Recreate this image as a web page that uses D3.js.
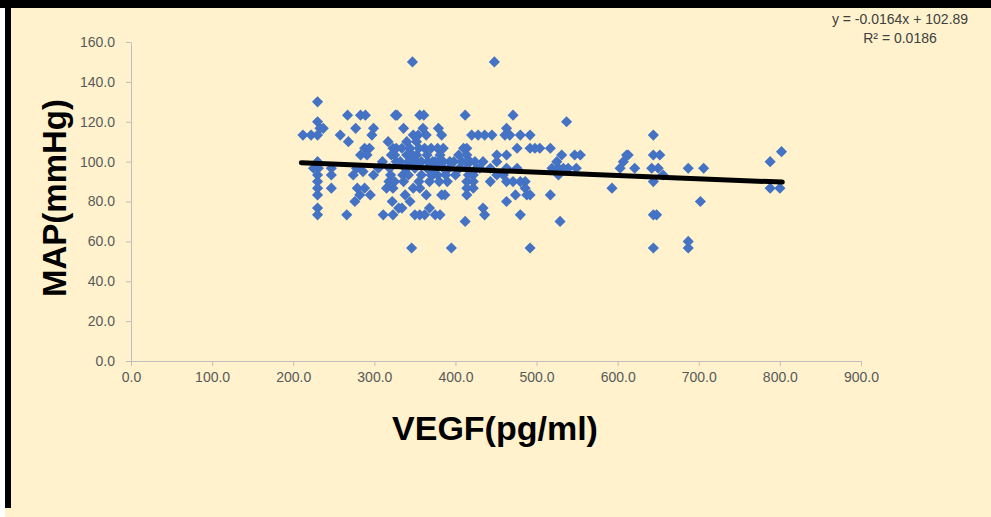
<!DOCTYPE html>
<html>
<head>
<meta charset="utf-8">
<script src="https://cdn.jsdelivr.net/npm/d3@7"></script>
<style>
  html, body { margin: 0; padding: 0; background: #ffffff; }
  svg { display: block; }
</style>
</head>
<body>
<div id="chart"></div>
<script>
// VEGF (pg/ml) readings, x values
const vegf = [
  212, 222, 230, 230, 233, 237, 230, 230, 225, 231, 230, 230, 230, 230, 230, 230,
  247, 247, 247, 258, 267, 283, 289, 277, 268, 288, 283, 278, 286, 274, 282, 276, 279, 288, 295, 266,
  299, 297, 299, 305, 310, 317, 323, 294, 291, 315, 323, 311, 323, 326, 319, 320, 325, 327, 325, 321, 327, 322, 330, 318,
  328, 336, 340, 334, 340, 344, 352, 352, 348, 354, 347, 356, 361, 335, 336, 340, 345, 350, 338, 344, 334, 348, 356, 350, 356, 346, 342, 355, 358, 352,
  360, 364, 362, 370, 378, 381, 365, 372, 385, 393, 379, 383, 364, 368, 375, 381, 383, 387, 365, 372, 368, 378, 385, 390, 395, 385, 362, 375, 368, 380,
  412, 410, 414, 414, 414, 414, 414, 414, 414, 422, 422, 422, 412, 420, 428, 436, 445, 434, 451, 443, 451, 443, 459, 463, 451, 463, 434, 436, 463, 448, 471, 463, 461, 467, 405, 400, 418, 426,
  480, 492, 492, 498, 504, 476, 517, 531, 547, 525, 527, 539, 549, 463, 476, 519, 527, 471, 480, 486, 486, 488, 492, 474, 517, 480, 529, 492, 537, 554, 533,
  593, 603, 607, 611, 613, 621, 644, 644, 652, 642, 650, 656, 644, 644, 648, 644, 687, 706, 702, 687, 687, 788, 802, 788, 800,
  332, 338, 342, 347, 355, 358, 366, 370, 376, 380, 388, 392, 398, 404, 408, 416, 424, 430
];

// MAP (mmHg) readings, y values
const map = [
  113.3, 113.3, 130, 120, 116.7, 116.7, 113.3, 100, 96.7, 96.7, 93.3, 90, 86.7, 83.3, 76.7, 73.3,
  96.7, 93.3, 86.7, 113.3, 123.3, 123.3, 123.3, 116.7, 110, 106.7, 103.3, 96.7, 95, 93.3, 83.3, 80, 86.7, 86.7, 83.3, 73.3,
  116.7, 113.3, 93.3, 96.7, 100, 110, 106.7, 106.7, 103.3, 86.7, 86.7, 73.3, 73.3, 123.3, 96.7, 93.3, 90, 100, 103.3, 103.3, 106.7, 80, 76.7, 90,
  123.3, 116.7, 110, 106.7, 103.3, 106.7, 110, 103.3, 113.3, 113.3, 150, 123.3, 123.3, 93.3, 90, 96.7, 100, 96.7, 83.3, 80, 76.7, 86.7, 86.7, 73.3, 73.3, 56.7, 93.3, 90, 93.3, 100,
  116.7, 113.3, 106.7, 106.7, 106.7, 103.3, 103.3, 100, 100, 100, 116.7, 113.3, 83.3, 76.7, 73.3, 73.3, 83.3, 83.3, 96.7, 93.3, 90, 93.3, 96.7, 90, 56.7, 106.7, 73.3, 100, 96.7, 90,
  123.3, 106.7, 106.7, 103.3, 100, 96.7, 90, 86.7, 83.3, 93.3, 90, 86.7, 70, 113.3, 113.3, 113.3, 113.3, 100, 100, 96.7, 93.3, 90, 93.3, 90, 103.3, 103.3, 76.7, 73.3, 80, 150, 123.3, 116.7, 113.3, 113.3, 96.7, 93.3, 100, 96.7,
  113.3, 113.3, 106.7, 106.7, 106.7, 106.7, 106.7, 103.3, 103.3, 100, 96.7, 96.7, 96.7, 96.7, 96.7, 96.7, 93.3, 90, 90, 90, 86.7, 83.3, 83.3, 83.3, 83.3, 73.3, 70, 56.7, 120, 103.3, 96.7,
  86.7, 96.7, 100, 103.3, 103.3, 96.7, 113.3, 103.3, 103.3, 96.7, 96.7, 93.3, 90, 73.3, 73.3, 56.7, 96.7, 96.7, 80, 60, 56.7, 100, 105, 86.7, 86.7,
  100, 96.7, 100, 103.3, 106.7, 100, 100, 93.3, 96.7, 100, 93.3, 96.7, 100, 103.3, 100, 93.3, 100, 96.7
];

// linear trendline shown on the chart
const trendSlope = -0.0164;
const trendIntercept = 102.89;
const trendLabel = ['y = -0.0164x + 102.89', 'R\u00b2 = 0.0186'];

const xTicks = [0, 100, 200, 300, 400, 500, 600, 700, 800, 900];
const yTicks = [0, 20, 40, 60, 80, 100, 120, 140, 160];

const width = 991;
const height = 517;

const svg = d3.select('#chart')
  .append('svg')
  .attr('width', width)
  .attr('height', height);

// frame: cream panel with a dark edge top and left
svg.append('rect').attr('x', 0).attr('y', 0).attr('width', width).attr('height', height).attr('fill', '#ffffff');
svg.append('rect').attr('x', 5).attr('y', 0).attr('width', width - 5).attr('height', height).attr('fill', '#fff2cc');
svg.append('rect').attr('x', 0).attr('y', 0).attr('width', width).attr('height', 8).attr('fill', '#000000');
svg.append('rect').attr('x', 5).attr('y', 0).attr('width', 6).attr('height', 508).attr('fill', '#000000');

const x = d3.scaleLinear().domain([0, 900]).range([131, 861]);
const y = d3.scaleLinear().domain([0, 160]).range([361, 42]);

const fmt = d3.format('.1f');

// x axis
const xAxis = svg.append('g')
  .attr('transform', `translate(0, ${y(0)})`)
  .call(d3.axisBottom(x).tickValues(xTicks).tickFormat(fmt).tickSize(5).tickSizeOuter(0).tickPadding(6));

// y axis
const yAxis = svg.append('g')
  .attr('transform', `translate(${x(0)}, 0)`)
  .call(d3.axisLeft(y).tickValues(yTicks).tickFormat(fmt).tickSize(5).tickSizeOuter(0).tickPadding(11));

[xAxis, yAxis].forEach(g => {
  g.select('.domain').attr('stroke', '#bfbfbf').attr('stroke-width', 1);
  g.selectAll('.tick line').attr('stroke', '#bfbfbf');
  g.selectAll('.tick text')
    .attr('fill', '#595959')
    .attr('font-family', 'Liberation Sans, Arial, sans-serif')
    .attr('font-size', '14px');
});

// points
const pts = vegf.map((v, i) => ({ v: v, m: map[i] }));
const diamond = d3.symbol(d3.symbolSquare, 62);

svg.append('g')
  .selectAll('path')
  .data(pts)
  .enter()
  .append('path')
  .attr('d', diamond)
  .attr('transform', d => `translate(${x(d.v)}, ${y(d.m)}) rotate(45)`)
  .attr('fill', '#4472c4');

// trendline over the data range
const xExtent = d3.extent(vegf);
const line = d3.line()
  .x(d => x(d))
  .y(d => y(trendSlope * d + trendIntercept));

svg.append('path')
  .datum([xExtent[0] - 2, xExtent[1] + 1])
  .attr('d', line)
  .attr('fill', 'none')
  .attr('stroke', '#000000')
  .attr('stroke-width', 5)
  .attr('stroke-linecap', 'round');

// trendline equation
svg.append('g')
  .selectAll('text')
  .data(trendLabel)
  .enter()
  .append('text')
  .attr('x', 900)
  .attr('y', (d, i) => 24 + i * 19)
  .attr('text-anchor', 'middle')
  .attr('font-family', 'Liberation Sans, Arial, sans-serif')
  .attr('font-size', '14px')
  .attr('fill', '#404040')
  .text(d => d);

// axis titles
svg.append('text')
  .attr('x', 495)
  .attr('y', 440)
  .attr('text-anchor', 'middle')
  .attr('font-family', 'Liberation Sans, Arial, sans-serif')
  .attr('font-weight', 'bold')
  .attr('font-size', '34px')
  .attr('fill', '#000000')
  .text('VEGF(pg/ml)');

svg.append('text')
  .attr('transform', 'translate(66, 198) rotate(-90)')
  .attr('text-anchor', 'middle')
  .attr('font-family', 'Liberation Sans, Arial, sans-serif')
  .attr('font-weight', 'bold')
  .attr('font-size', '33px')
  .attr('fill', '#000000')
  .text('MAP(mmHg)');
</script>
</body>
</html>
